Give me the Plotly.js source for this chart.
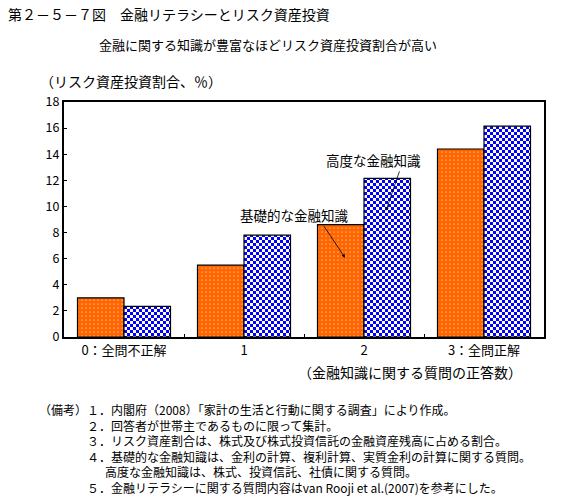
<!DOCTYPE html>
<html>
<head>
<meta charset="utf-8">
<script src="https://cdn.plot.ly/plotly-3.0.1.min.js"></script>
<style>html,body{margin:0;padding:0;background:#fff;}#chart{width:587px;height:497px;}</style>
</head>
<body>
<div id="chart"></div>
<script>
const categories = ["0：全問不正解", "1", "2", "3：全問正解"];
const seriesNames = ["基礎的な金融知識", "高度な金融知識"];
const basicValues = [3.0, 5.5, 8.6, 14.4];
const advancedValues = [2.35, 7.8, 12.15, 16.15];
const yTicks = [0, 2, 4, 6, 8, 10, 12, 14, 16, 18];
const notes = [
  "（備考）１．内閣府（2008）「家計の生活と行動に関する調査」により作成。",
  "　　　　２．回答者が世帯主であるものに限って集計。",
  "　　　　３．リスク資産割合は、株式及び株式投資信託の金融資産残高に占める割合。",
  "　　　　４．基礎的な金融知識は、金利の計算、複利計算、実質金利の計算に関する質問。",
  "　　　　　\u2002高度な金融知識は、株式、投資信託、社債に関する質問。",
  "　　　　５．金融リテラシーに関する質問内容はvan Rooji et al.(2007)を参考にした。"
];

const FONT = "'Noto Sans CJK JP', 'Noto Sans', sans-serif";
const W = 587, H = 497;
const M = {l: 64, r: 43, t: 102, b: 160};
const PW = W - M.l - M.r, PH = H - M.t - M.b;
const px = x => (x - M.l) / PW;
const py = y => (H - M.b - y) / PH;

const traces = [
  {
    type: "bar", name: seriesNames[0], x: categories, y: basicValues,
    marker: {color: "#FF6600", line: {color: "#000", width: 1.2},
      pattern: {shape: ".", fgcolor: "#FFFFFF", bgcolor: "#FF6600", size: 4, solidity: 0.07, fillmode: "replace"}},
    hoverinfo: "none"
  },
  {
    type: "bar", name: seriesNames[1], x: categories, y: advancedValues,
    marker: {color: "#0000FF", line: {color: "#000", width: 1.2},
      pattern: {shape: ".", fgcolor: "#0000FF", bgcolor: "#FFFFFF", size: 6, solidity: 0.3, fillmode: "replace"}},
    hoverinfo: "none"
  }
];

const annotations = [
  {text: "金融に関する知識が豊富なほどリスク資産投資割合が高い", xref: "paper", yref: "paper",
   x: px(268), y: py(45), xanchor: "center", yanchor: "middle", showarrow: false, font: {size: 13}},
  {text: "（リスク資産投資割合、％）", xref: "paper", yref: "paper",
   x: px(38), y: py(81), xanchor: "left", yanchor: "middle", showarrow: false, font: {size: 14}},
  {text: "（金融知識に関する質問の正答数）", xref: "paper", yref: "paper",
   x: px(410), y: py(372), xanchor: "center", yanchor: "middle", showarrow: false, font: {size: 14}},
  {text: seriesNames[0], xref: "x", yref: "y", x: 1.42, y: 9.34, xanchor: "center", yanchor: "middle",
   showarrow: false, font: {size: 13.5}},
  {text: "", xref: "x", yref: "y", x: 1.842, y: 6.07, ax: -22, ay: -33, showarrow: true,
   arrowhead: 2, arrowsize: 0.9, arrowwidth: 0.8, arrowcolor: "#000"},
  {text: seriesNames[1], xref: "x", yref: "y", x: 2.08, y: 13.55, xanchor: "center", yanchor: "middle",
   showarrow: false, font: {size: 13.5}},
  {text: "", xref: "x", yref: "y", x: 2.183, y: 9.67, ax: 14, ay: -41, showarrow: true,
   arrowhead: 2, arrowsize: 0.9, arrowwidth: 0.8, arrowcolor: "#000"},
  {text: notes.join("<br>"), xref: "paper", yref: "paper", x: px(38), y: py(400),
   xanchor: "left", yanchor: "top", align: "left", showarrow: false, borderpad: 0, font: {size: 12}}
];

const layout = {
  width: W, height: H, margin: M,
  paper_bgcolor: "#fff", plot_bgcolor: "#fff",
  font: {family: FONT, size: 12, color: "#000"},
  title: {text: "第２－５－７図　金融リテラシーとリスク資産投資", x: 8 / W, xanchor: "left",
    y: 1 - 15 / H, yanchor: "middle", font: {size: 14, family: FONT}},
  showlegend: false,
  barmode: "group", bargap: 0.225, bargroupgap: 0,
  xaxis: {type: "category", showline: true, linecolor: "#000", linewidth: 2, mirror: true,
    ticks: "inside", ticklen: 3, tickcolor: "#000", tickson: "boundaries",
    showgrid: false, zeroline: false, tickfont: {size: 13}, fixedrange: true},
  yaxis: {range: [0, 18], tickvals: yTicks, showline: true, linecolor: "#000", linewidth: 2, mirror: true,
    ticks: "inside", ticklen: 3, tickcolor: "#000", showgrid: false, zeroline: false,
    tickfont: {size: 12.5}, fixedrange: true},
  annotations: annotations
};

Plotly.newPlot("chart", traces, layout, {staticPlot: true, displayModeBar: false}).then(gd => {
  const NS = "http://www.w3.org/2000/svg";
  gd.querySelectorAll("pattern").forEach(p => {
    const c = p.querySelector("circle");
    if (!c) return;
    const fill = (c.getAttribute("fill") || c.style.fill || "").toLowerCase().replace(/\s/g, "");
    if (fill.indexOf("0,0,255") >= 0 || fill === "#0000ff" || fill === "blue") {
      p.setAttribute("width", 6); p.setAttribute("height", 6);
      while (p.firstChild) p.removeChild(p.firstChild);
      const mk = (x, y, w, h, col) => { const r = document.createElementNS(NS, "rect");
        r.setAttribute("x", x); r.setAttribute("y", y); r.setAttribute("width", w); r.setAttribute("height", h);
        r.setAttribute("fill", col); r.setAttribute("shape-rendering", "crispEdges"); p.appendChild(r); };
      mk(0, 0, 6, 6, "#FFFFFF"); mk(0, 0, 3, 3, "#0000FF"); mk(3, 3, 3, 3, "#0000FF");
    }
  });
});
</script>
</body>
</html>
